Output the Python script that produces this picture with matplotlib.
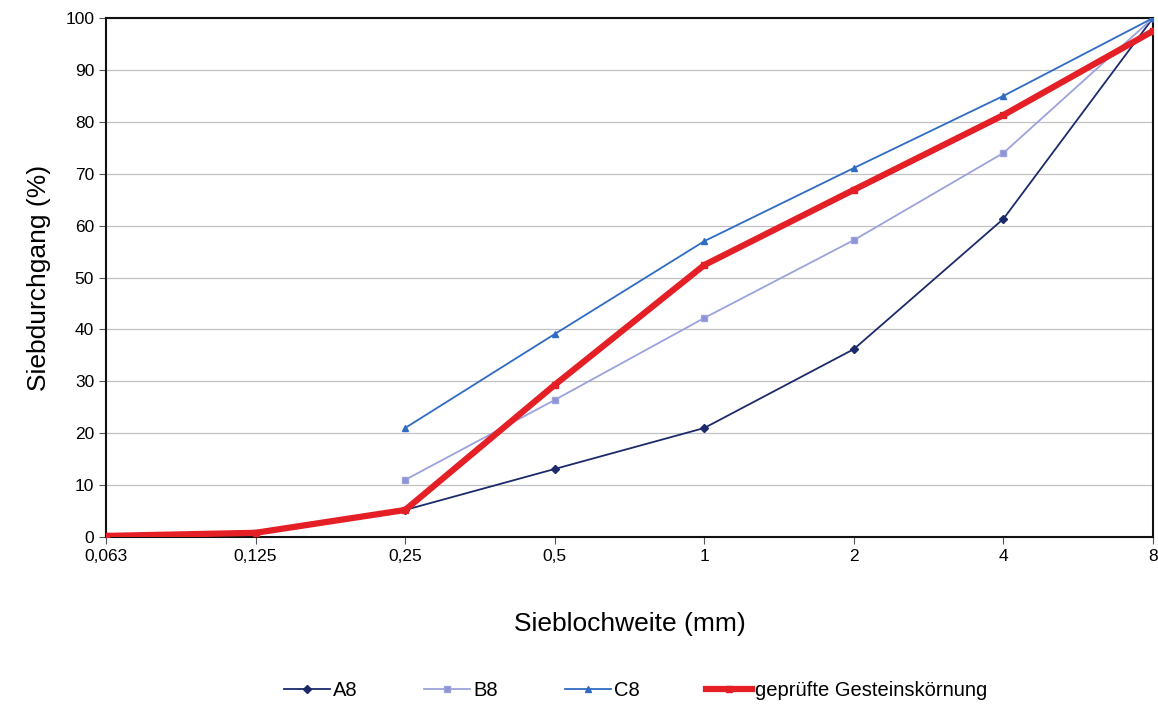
import matplotlib
matplotlib.use("Agg")
import matplotlib.pyplot as plt

sieves = ["0,063", "0,125", "0,25", "0,5", "1", "2", "4", "8"]
a8 = [None, None, 5.2, 13.1, 21.0, 36.2, 61.3, 100.0]
b8 = [None, None, 11.0, 26.4, 42.2, 57.2, 74.0, 100.0]
c8 = [None, None, 21.0, 39.1, 57.0, 71.1, 85.0, 100.0]
probe = [0.2, 0.8, 5.2, 29.3, 52.4, 66.9, 81.3, 97.5]

plt.rcParams['font.family'] = ['Liberation Sans', 'DejaVu Sans']

fig = plt.figure(figsize=(11.58, 7.1), dpi=100)
ax = fig.add_axes([0.0915, 0.2437, 0.9042, 0.7309])

def pts(vals):
    xs = [i for i, v in enumerate(vals) if v is not None]
    ys = [v for v in vals if v is not None]
    return xs, ys

x, y = pts(a8)
ax.plot(x, y, color="#1c2a6b", lw=1.3, marker="D", ms=4, label="A8", zorder=3)
x, y = pts(b8)
ax.plot(x, y, color="#9da2dc", lw=1.3, marker="s", ms=5, markerfacecolor="#8e93d6", label="B8", zorder=3)
x, y = pts(c8)
ax.plot(x, y, color="#2e6cc4", lw=1.3, marker="^", ms=5, label="C8", zorder=3)
x, y = pts(probe)
ax.plot(x, y, color="#e41f26", lw=4.5, marker="s", ms=5, label="geprüfte Gesteinskörnung", zorder=4)

ax.set_xlim(0, len(sieves) - 1)
ax.set_ylim(0, 100)
ax.set_xticks(range(len(sieves)))
ax.set_xticklabels(sieves)
ax.set_yticks(range(0, 101, 10))
ax.tick_params(axis="both", labelsize=12.5, length=5, width=0.8, color="#555555")
ax.grid(axis="y", color="#c2c2c2", lw=0.9)
ax.set_axisbelow(True)
for s in ax.spines.values():
    s.set_linewidth(1.5)
    s.set_color("#111111")

ax.set_ylabel("Siebdurchgang (%)", fontsize=19, labelpad=10)
ax.set_xlabel("Sieblochweite (mm)", fontsize=19, labelpad=35)

fig.legend(loc="center", bbox_to_anchor=(0.549, 0.028), ncol=4, frameon=False,
           fontsize=14.5, handlelength=2.3, columnspacing=3.3, handletextpad=0.15)

fig.savefig("out.png", dpi=100)
